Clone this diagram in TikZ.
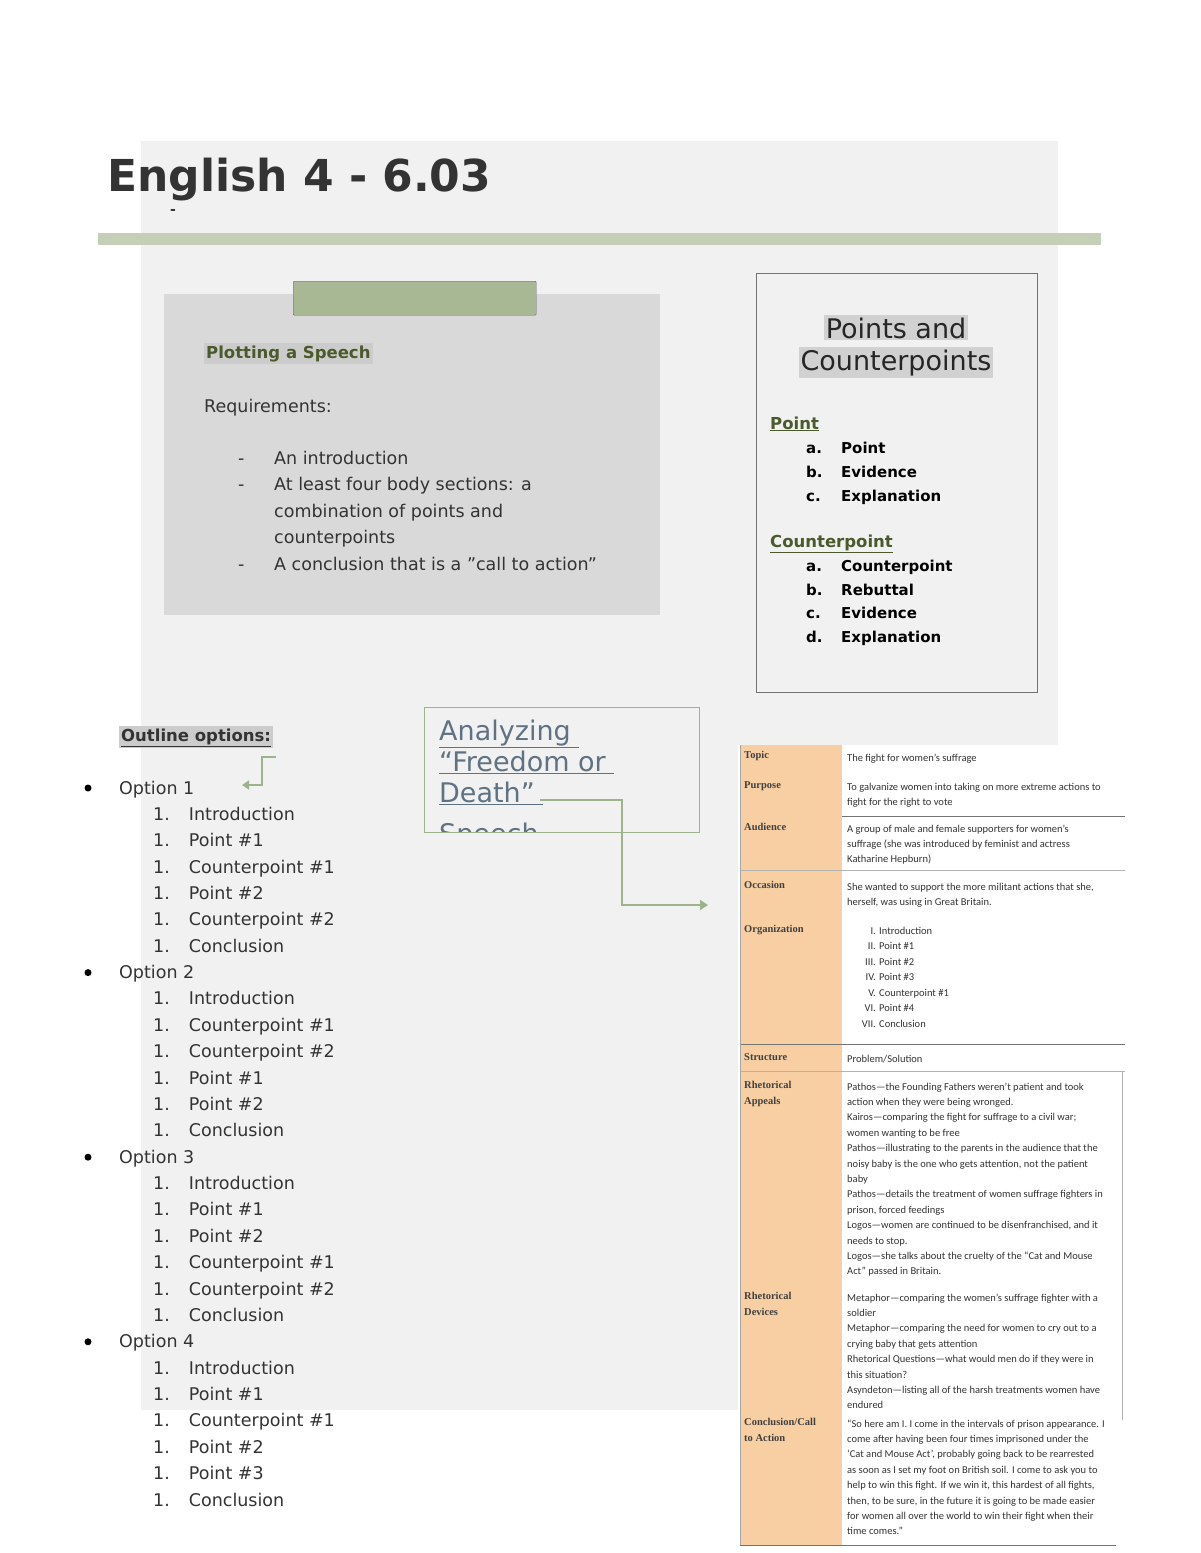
\documentclass[tikz,border=0pt]{standalone}
\usepackage{fontspec}
\setmainfont{DejaVu Sans}
\newfontfamily\tbl{Carlito}
\newfontfamily\tlab{Liberation Serif}
\usetikzlibrary{arrows.meta}
\definecolor{pagegray}{HTML}{F1F1F1}
\definecolor{boxgray}{HTML}{D9D9D9}
\definecolor{barg}{HTML}{C4CFB6}
\definecolor{tabg}{HTML}{A8B895}
\definecolor{olive}{HTML}{4B5A2C}
\definecolor{peach}{HTML}{F8CFA3}
\definecolor{slate}{HTML}{5E7283}
\definecolor{arrg}{HTML}{9DB38C}
\definecolor{txt}{HTML}{333333}
\begin{document}
\begin{tikzpicture}[x=1pt,y=-1pt,
  every node/.style={inner sep=0pt,text=txt},
  body/.style={anchor=base west,font=\fontsize{17.5}{20}\selectfont},
  pc/.style={anchor=base west,font=\fontsize{15}{18}\selectfont\bfseries,text=black},
  tl/.style={anchor=north west,font=\tlab\fontsize{10.5}{16}\selectfont\bfseries,text=black!75,align=left},
  tt/.style={anchor=base west,font=\tbl\fontsize{10.5}{12}\selectfont,text=black!80},
  rule/.style={draw=black!55,line width=1pt}]
\useasboundingbox (0,0) rectangle (1200,1553);
\fill[white] (0,0) rectangle (1200,1553);
\fill[pagegray] (141,141) rectangle (1058,1410);
\node[anchor=base west,font=\fontsize{44}{50}\selectfont\bfseries,text=black!80] (title) at (107,191) {English 4 - 6.03};
\node[anchor=base west,font=\fontsize{14}{14}\selectfont\bfseries] (dash) at (170,214) {-};
\fill[barg] (98,233) rectangle (1101,245);
% plotting box
\fill[boxgray] (164,294) rectangle (660,615);
\node[draw=black!60,fill=tabg,minimum width=243pt,minimum height=34pt,anchor=north west,rounded corners=1pt] (tab) at (293,281) {};
\node[anchor=base west,font=\fontsize{16.5}{19}\selectfont\bfseries,text=olive,fill=black!20,inner sep=2pt] (plot) at (204,358) {Plotting a Speech};
\node[body] (req) at (204,412) {Requirements:};
\foreach \y/\t [count=\i] in {464/An introduction,490/At least four body sections: a,517/combination of points and,543/counterpoints,570/A conclusion that is a "call to action"}{
  \node[body] (r\i) at (274,\y) {\t};}
\foreach \y [count=\i] in {464,490,570}{\node[body] (d\i) at (238,\y) {-};}
% points box
\draw[black!55,line width=1pt] (756,273) rectangle (1037,692);
\node[anchor=base,font=\fontsize{27}{30}\selectfont,fill=black!18,inner sep=2pt,text=black!85] (pc1) at (896,338) {Points and};
\node[anchor=base,font=\fontsize{27}{30}\selectfont,fill=black!18,inner sep=2pt,text=black!85] (pc2) at (896,370) {Counterpoints};
\node[anchor=base west,font=\fontsize{16.5}{19}\selectfont\bfseries,text=olive] (ph) at (770,429) {\underline{Point}};
\foreach \y/\l/\t [count=\i] in {453/a./Point,477/b./Evidence,501/c./Explanation}{
  \node[pc] (pl\i) at (806,\y) {\l}; \node[pc] (pt\i) at (841,\y) {\t};}
\node[anchor=base west,font=\fontsize{16.5}{19}\selectfont\bfseries,text=olive] (ch) at (770,547) {\underline{Counterpoint}};
\foreach \y/\l/\t [count=\i] in {571/a./Counterpoint,595/b./Rebuttal,618/c./Evidence,642/d./Explanation}{
  \node[pc] (cl\i) at (806,\y) {\l}; \node[pc] (ct\i) at (841,\y) {\t};}
% analyzing box
\begin{scope}
\clip (424,707) rectangle (699,832);
\foreach \y/\t [count=\i] in {740/Analyzing\ ,771/“Freedom or\ ,802/Death”\ ,843/Speech}{
  \node[anchor=base west,font=\fontsize{27}{30}\selectfont,text=slate] (an\i) at (439,\y) {\underline{\t}};}
\end{scope}
\node[draw=arrg,line width=1.2pt,minimum width=275pt,minimum height=125pt,anchor=north west] (abox) at (424,707) {};
\coordinate (a0) at (540,800);
\coordinate (a1) at (708,905);
\draw[arrg,line width=2.5pt,-{Triangle[length=8pt,width=10pt]}] (a0) -| (622,905) -- (a1);
% outline
\node[anchor=base west,font=\fontsize{16.5}{19}\selectfont\bfseries,fill=black!20,inner sep=2pt] (oo) at (119,741) {\underline{Outline options:}};
\coordinate (s0) at (276,757); \coordinate (s1) at (242,785);
\draw[arrg,line width=2pt,-{Triangle[length=7pt,width=9pt]}] (s0) -- (262,757) |- (s1);
\foreach \n/\a/\b/\c/\d/\e/\f [count=\k from 0] in {
  1/Introduction/Point \#1/Counterpoint \#1/Point \#2/Counterpoint \#2/Conclusion,
  2/Introduction/Counterpoint \#1/Counterpoint \#2/Point \#1/Point \#2/Conclusion,
  3/Introduction/Point \#1/Point \#2/Counterpoint \#1/Counterpoint \#2/Conclusion,
  4/Introduction/Point \#1/Counterpoint \#1/Point \#2/Point \#3/Conclusion}{
  \pgfmathsetmacro\yb{794+\k*7*26.37}
  \node[body] (o\n) at (119,\yb) {Option \n};
  \fill[black] (88,\yb-6) circle (3.5pt);
  \foreach \t [count=\j] in {\a,\b,\c,\d,\e,\f}{
    \pgfmathsetmacro\yy{\yb+\j*26.37}
    \node[body] (o\n-\j) at (153,\yy) {1.\hspace{19pt}\t};}}
% table
\fill[white] (738,745) rectangle (1128,1548);
\fill[peach] (740,745) rectangle (842,1545);
\draw[rule] (842,816) -- (1125,816);
\draw[black!30] (740,870) -- (1125,870);
\draw[rule] (740,1044) -- (1125,1044);
\draw[black!30] (740,1071) -- (1125,1071);
\draw[black!30] (1122,1071) -- (1122,1420);
\draw[rule] (740,1545) -- (1116,1545);
\draw[black!35] (740,745) -- (740,1545);
\node[tl] (lt) at (744,751) {Topic};
\node[tl] (lp) at (744,781) {Purpose};
\node[tl] (lau) at (744,823) {Audience};
\node[tl] (loc) at (744,881) {Occasion};
\node[tl] (lor) at (744,925) {Organization};
\node[tl] (lst) at (744,1053) {Structure};
\node[tl] (lra) at (744,1081) {Rhetorical\\Appeals};
\node[tl] (lrd) at (744,1292) {Rhetorical\\Devices};
\node[tl] (lcc) at (744,1418) {Conclusion/Call\\to Action};
\def\tcol#1#2#3{\foreach \t [count=\i from 0] in {#3}{\node[tt] at (847,#1+\i*#2) {\t};}}
\tcol{761}{15}{The fight for women’s suffrage}
\tcol{790}{15}{To galvanize women into taking on more extreme actions to,fight for the right to vote}
\tcol{832}{15}{A group of male and female supporters for women’s,suffrage (she was introduced by feminist and actress,Katharine Hepburn)}
\tcol{890}{15.5}{She wanted to support the more militant actions that she{,},herself{,} was using in Great Britain.}
\foreach \r/\t [count=\i from 0] in {I./Introduction,II./Point \#1,III./Point \#2,IV./Point \#3,V./Counterpoint \#1,VI./Point \#4,VII./Conclusion}{
  \node[tt,anchor=base east] at (876,934+\i*15.5) {\r}; \node[tt] at (879,934+\i*15.5) {\t};}
\tcol{1062}{15}{Problem/Solution}
\tcol{1090}{15.4}{Pathos—the Founding Fathers weren’t patient and took,action when they were being wronged.,Kairos—comparing the fight for suffrage to a civil war;,women wanting to be free,Pathos—illustrating to the parents in the audience that the,noisy baby is the one who gets attention{,} not the patient,baby,Pathos—details the treatment of women suffrage fighters in,prison{,} forced feedings,Logos—women are continued to be disenfranchised{,} and it,needs to stop.,Logos—she talks about the cruelty of the “Cat and Mouse,Act” passed in Britain.}
\tcol{1301}{15.4}{Metaphor—comparing the women’s suffrage fighter with a,soldier,Metaphor—comparing the need for women to cry out to a,crying baby that gets attention,Rhetorical Questions—what would men do if they were in,this situation?,Asyndeton—listing all of the harsh treatments women have,endured}
\tcol{1427}{15.4}{“So here am I. I come in the intervals of prison appearance. I,come after having been four times imprisoned under the,‘Cat and Mouse Act’{,} probably going back to be rearrested,as soon as I set my foot on British soil. I come to ask you to,help to win this fight. If we win it{,} this hardest of all fights{,},then{,} to be sure{,} in the future it is going to be made easier,for women all over the world to win their fight when their,time comes.”}
\end{tikzpicture}
\end{document}
